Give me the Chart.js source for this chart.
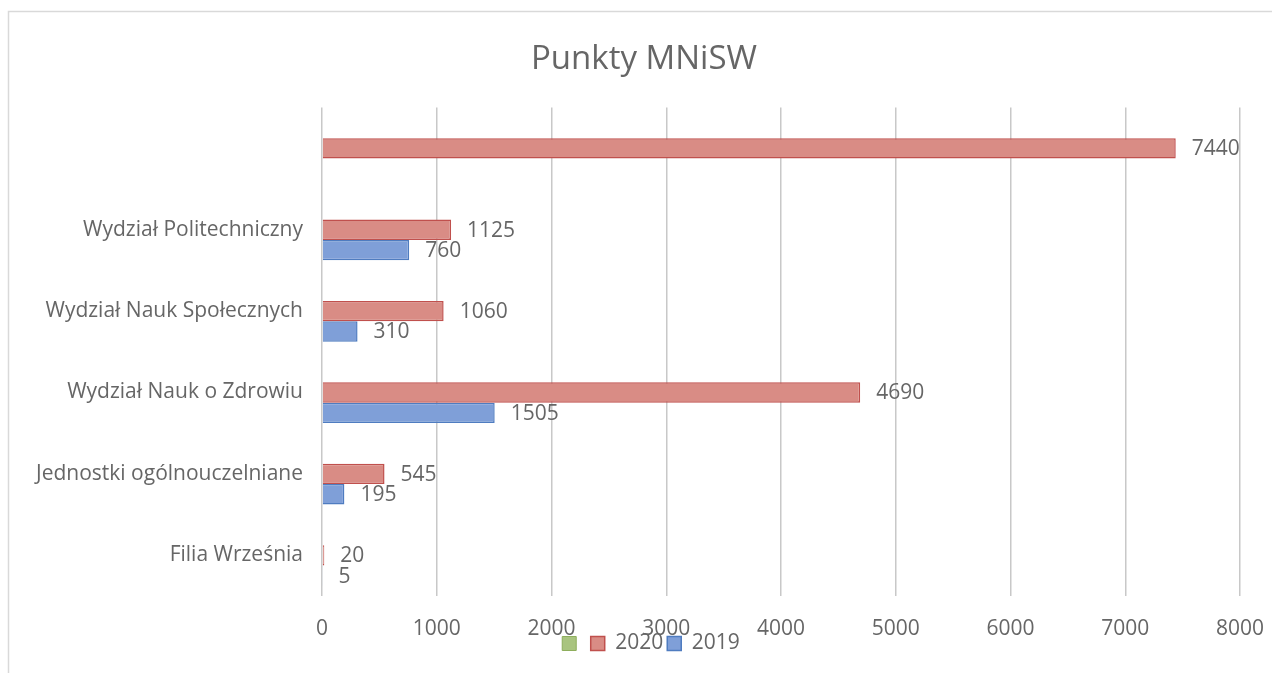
<!DOCTYPE html>
<html>
<head>
<meta charset="utf-8">
<title>Punkty MNiSW</title>
<script src="https://cdn.jsdelivr.net/npm/chart.js@4/dist/chart.umd.min.js"></script>
<style>
  html, body { margin: 0; padding: 0; background: #fff; }
  canvas { display: block; }
</style>
</head>
<body>
<canvas id="pointsChart" width="1272" height="673"></canvas>
<script>
// categories, top to bottom (first one has no label in the original)
const categories = [
  '',
  'Wydział Politechniczny',
  'Wydział Nauk Społecznych',
  'Wydział Nauk o Zdrowiu',
  'Jednostki ogólnouczelniane',
  'Filia Września'
];
const values2020 = [7440, 1125, 1060, 4690, 545, 20];
const values2019 = [null, 760, 310, 1505, 195, 5];
const valuesEmpty = [null, null, null, null, null, null];
const xTicks = [0, 1000, 2000, 3000, 4000, 5000, 6000, 7000, 8000];

const textColor = '#666666';
const fontFamily = "'Open Sans', 'Noto Sans', sans-serif";

// value labels to the right of every bar
const valueLabels = {
  id: 'valueLabels',
  afterDatasetsDraw(chart) {
    const ctx = chart.ctx;
    ctx.save();
    ctx.fillStyle = textColor;
    ctx.font = '21px ' + fontFamily;
    ctx.textAlign = 'left';
    ctx.textBaseline = 'middle';
    chart.data.datasets.forEach((ds, i) => {
      const meta = chart.getDatasetMeta(i);
      meta.data.forEach((bar, j) => {
        const v = ds.data[j];
        if (v === null || v === undefined) return;
        ctx.fillText(String(v), bar.x + 16, bar.y + 1);
      });
    });
    ctx.restore();
  }
};

// thin frame round the chart (top and left edge visible in the scan)
const frame = {
  id: 'frame',
  beforeDraw(chart) {
    const ctx = chart.ctx;
    ctx.save();
    ctx.strokeStyle = '#d9d9d9';
    ctx.lineWidth = 1.5;
    ctx.beginPath();
    ctx.moveTo(8.5, chart.height);
    ctx.lineTo(8.5, 11.5);
    ctx.lineTo(chart.width, 11.5);
    ctx.stroke();
    ctx.restore();
  }
};

// the legend sits over the x tick labels in the original, so nudge it;
// the title is a bit right of centre as well
const boxNudge = {
  id: 'boxNudge',
  afterLayout(chart) {
    const lg = chart.legend;
    if (lg) {
      lg.top -= 9;
      lg.bottom -= 9;
      lg.left += 26;
      lg.right += 26;
    }
    const t = chart.titleBlock;
    if (t) {
      t.left += 19;
      t.right += 19;
      t.top += 2;
      t.bottom += 2;
    }
  }
};

const ctx = document.getElementById('pointsChart').getContext('2d');
new Chart(ctx, {
  type: 'bar',
  data: {
    labels: categories,
    datasets: [
      {
        label: '',
        data: valuesEmpty,
        backgroundColor: '#a9c47f',
        borderColor: '#8eae5c',
        borderWidth: 1
      },
      {
        label: '2020',
        data: values2020,
        backgroundColor: '#d98c85',
        borderColor: '#c0504d',
        borderWidth: 1.5
      },
      {
        label: '2019',
        data: values2019,
        backgroundColor: '#7f9fd8',
        borderColor: '#4f7cc0',
        borderWidth: 1.5
      }
    ]
  },
  options: {
    indexAxis: 'y',
    responsive: false,
    animation: false,
    devicePixelRatio: 1,
    categoryPercentage: 0.75,
    barPercentage: 1,
    layout: {
      padding: { left: 10, right: 32, top: 0, bottom: 0 }
    },
    scales: {
      x: {
        min: 0,
        max: 8000,
        afterBuildTicks(scale) {
          scale.ticks = xTicks.map((v) => ({ value: v }));
        },
        afterFit(scale) {
          scale.height = 42;
          scale.paddingLeft = 0;
          scale.paddingRight = 0;
        },
        grid: {
          color: '#c8c8c8',
          lineWidth: 1.5,
          drawTicks: false
        },
        border: { display: false },
        ticks: {
          padding: 20,
          color: textColor,
          font: { family: fontFamily, size: 21 },
          callback: (v) => String(v)
        }
      },
      y: {
        afterFit(scale) {
          scale.width = 312;
        },
        grid: { display: false, drawTicks: false },
        border: { display: false },
        ticks: {
          padding: 19,
          color: textColor,
          font: { family: fontFamily, size: 21 }
        }
      }
    },
    plugins: {
      title: {
        display: true,
        text: 'Punkty MNiSW',
        color: textColor,
        font: { family: fontFamily, size: 33, weight: 'normal' },
        padding: { top: 38, bottom: 30 }
      },
      legend: {
        position: 'bottom',
        labels: {
          boxWidth: 14,
          boxHeight: 14,
          padding: 4,
          color: textColor,
          font: { family: fontFamily, size: 21 }
        }
      },
      tooltip: { enabled: false }
    }
  },
  plugins: [valueLabels, frame, boxNudge]
});
</script>
</body>
</html>
